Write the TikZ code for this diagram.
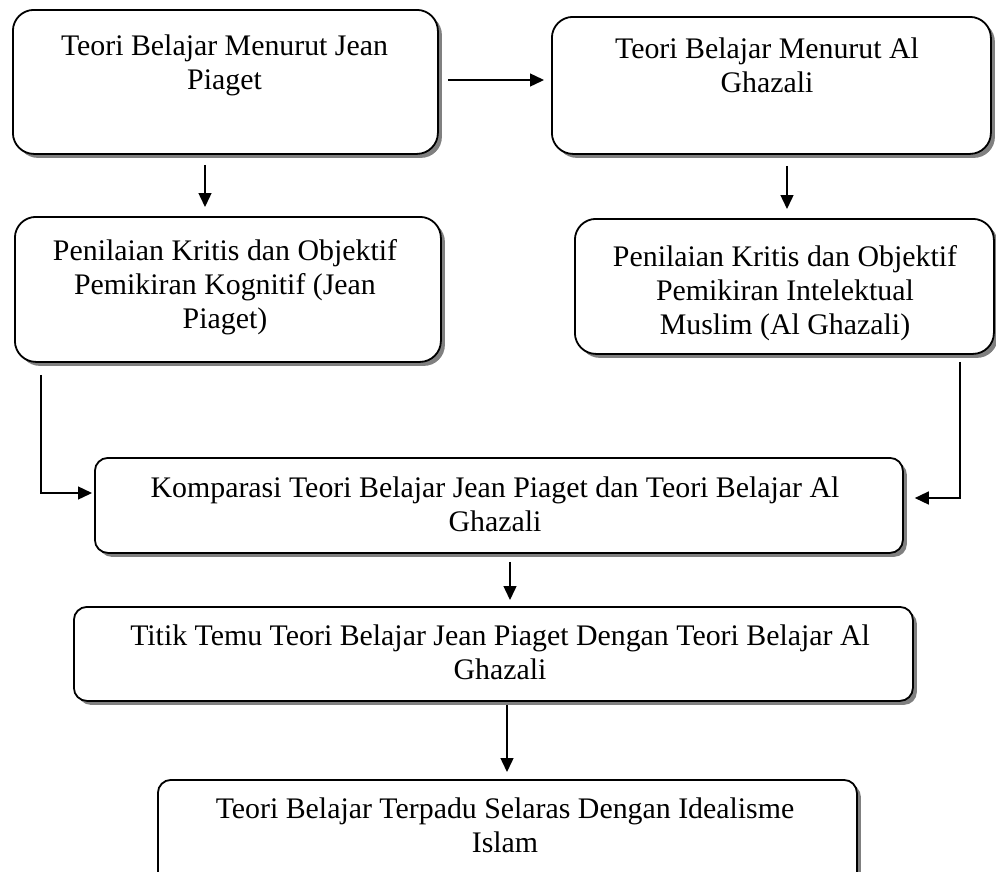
\documentclass[tikz,border=0pt]{standalone}
\usepackage{fontspec}
\setmainfont{Liberation Serif}
\usetikzlibrary{shadows,arrows.meta}
\begin{document}
\begin{tikzpicture}[x=1pt,y=-1pt,
 box/.style={draw, line width=1.8pt, fill=white, rounded corners=#1, inner sep=0pt, anchor=north west,
   drop shadow={shadow xshift=4pt, shadow yshift=-4pt, fill=black!50, opacity=1}},
 box/.default=21pt,
 txt/.style={font=\fontsize{29.85}{34}\selectfont, align=center, inner sep=0pt, anchor=north},
 arr/.style={line width=1.4pt, -{Triangle[length=14pt,width=13pt]}}]
\clip (0,0) rectangle (996,871);
% boxes
\node[box, minimum width=425pt, minimum height=144pt] (a) at (12,9) {};
\node[box, minimum width=439pt, minimum height=137pt] (b) at (551,16) {};
\node[box, minimum width=426pt, minimum height=145pt] (c) at (14,216) {};
\node[box, minimum width=419pt, minimum height=135pt] (d) at (574,218) {};
\node[box=13pt, minimum width=808pt, minimum height=95pt] (e) at (94,457) {};
\node[box=13pt, minimum width=839pt, minimum height=94pt] (f) at (73,606) {};
\node[box=13pt, minimum width=699pt, minimum height=110pt] (g) at (157,779) {};
% texts (first-line baseline = north + 21)
\node[txt] (ta) at (224.5,34) {\rule{0pt}{21pt}Teori Belajar Menurut Jean\\Piaget};
\node[txt] (tb) at (767,37) {\rule{0pt}{21pt}Teori Belajar Menurut Al\\Ghazali};
\node[txt] (tc) at (225,239) {\rule{0pt}{21pt}Penilaian Kritis dan Objektif\\Pemikiran Kognitif (Jean\\Piaget)};
\node[txt] (td) at (785,245) {\rule{0pt}{21pt}Penilaian Kritis dan Objektif\\Pemikiran Intelektual\\Muslim (Al Ghazali)};
\node[txt] (te) at (495,476) {\rule{0pt}{21pt}Komparasi Teori Belajar Jean Piaget dan Teori Belajar Al\\Ghazali};
\node[txt] (tf) at (500,624) {\rule{0pt}{21pt}Titik Temu Teori Belajar Jean Piaget Dengan Teori Belajar Al\\Ghazali};
\node[txt] (tg) at (505,797) {\rule{0pt}{21pt}Teori Belajar Terpadu Selaras Dengan Idealisme\\Islam};
% connectors
\draw[arr, shorten <=9pt, shorten >=7pt] (a.east |- 0,80) -- (b.west |- 0,80);
\draw[arr, shorten <=10pt, shorten >=9pt] (a.south -| 205,0) -- (c.north -| 205,0);
\draw[arr, shorten <=11pt, shorten >=9pt] (b.south -| 787,0) -- (d.north -| 787,0);
\draw[arr, shorten <=12pt, shorten >=2pt] (c.south -| 41,0) |- (e.west |- 0,493);
\draw[arr, shorten <=7pt, shorten >=11pt] (d.south -| 960,0) |- (e.east |- 0,498);
\draw[arr, shorten <=8pt, shorten >=6pt] (e.south -| 510,0) -- (f.north -| 510,0);
\draw[arr, shorten <=3pt, shorten >=7pt] (f.south -| 507,0) -- (g.north -| 507,0);
\end{tikzpicture}
\end{document}
